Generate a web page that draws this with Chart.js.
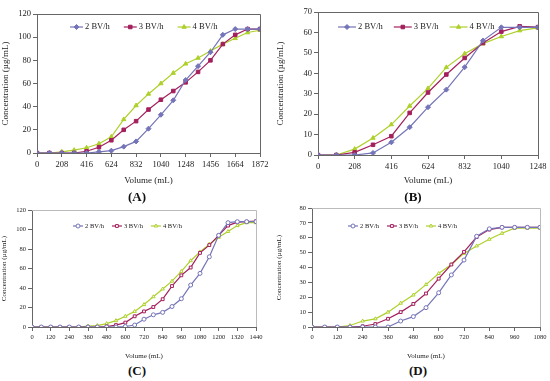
<!DOCTYPE html>
<html>
<head>
<meta charset="utf-8">
<script src="https://cdn.jsdelivr.net/npm/chart.js@4.4.1/dist/chart.umd.min.js"></script>
<style>
  body { margin: 0; background: #fff; }
  #wrap { position: relative; width: 550px; height: 381px; overflow: hidden; }
  .panel { position: absolute; }
  .lab { position: absolute; font: bold 13px "Liberation Serif", serif; color: #111; transform: translateX(-50%); }
</style>
</head>
<body>
<div id="wrap">
  <div class="panel" style="left:0;top:0;width:275px;height:186px"><canvas id="cA"></canvas></div>
  <div class="panel" style="left:275px;top:0;width:275px;height:186px"><canvas id="cB"></canvas></div>
  <div class="panel" style="left:0;top:190px;width:275px;height:170px"><canvas id="cC"></canvas></div>
  <div class="panel" style="left:275px;top:190px;width:275px;height:170px"><canvas id="cD"></canvas></div>
  <div class="lab" style="left:137px;top:189px">(A)</div>
  <div class="lab" style="left:413px;top:189px">(B)</div>
  <div class="lab" style="left:137px;top:363px">(C)</div>
  <div class="lab" style="left:418px;top:363px">(D)</div>
</div>
<script>
// ---- data ----
const seriesNames = ['2 BV/h', '3 BV/h', '4 BV/h'];

const volumeA = [0, 104, 208, 312, 416, 520, 624, 728, 832, 936, 1040, 1144, 1248, 1352, 1456, 1560, 1664, 1768, 1872];
const a2 = [0, 0, 0, 0, 0, 1, 2, 5.5, 10, 21, 33, 45.5, 63, 75, 87, 102, 107, 107, 107];
const a3 = [0, 0, 0, 0, 1.5, 5, 11, 20, 27.5, 37.5, 46, 53.5, 61, 70, 80, 94, 102, 107, 107];
const a4 = [0, 0, 1, 2.5, 4.5, 8, 14, 29, 41, 51, 60, 69, 77, 82, 88, 94, 99, 104, 106];
const xTicksA = [0, 208, 416, 624, 832, 1040, 1248, 1456, 1664, 1872];
const yTicksA = [0, 20, 40, 60, 80, 100, 120];

const volumeB = [0, 104, 208, 312, 416, 520, 624, 728, 832, 936, 1040, 1144, 1248];
const b2 = [0, 0, 0, 1, 6.2, 13.6, 23.4, 32, 43, 56, 62.5, 62.5, 62.5];
const b3 = [0, 0, 1.3, 5, 9.2, 20.6, 30.6, 39.4, 47.5, 54.8, 60.4, 63, 62.6];
const b4 = [0, 0, 2.9, 8.3, 14.9, 24, 32.6, 42.9, 49.6, 54.5, 58, 60.9, 62.2];
const xTicksB = [0, 208, 416, 624, 832, 1040, 1248];
const yTicksB = [0, 10, 20, 30, 40, 50, 60, 70];

const volumeC = [0, 60, 120, 180, 240, 300, 360, 420, 480, 540, 600, 660, 720, 780, 840, 900, 960, 1020, 1080, 1140, 1200, 1260, 1320, 1380, 1440];
const c2 = [0, 0, 0, 0, 0, 0, 0, 0, 0, 0, 0.5, 2, 8, 12.5, 15, 21, 29, 43, 55, 72, 94, 107, 108, 108, 108];
const c3 = [0, 0, 0, 0, 0, 0, 0, 0, 0.5, 2, 4.5, 11, 16, 20.5, 28.5, 42, 53, 61, 76, 84, 94, 104, 107.5, 108, 108.5];
const c4 = [0, 0, 0, 0, 0, 0, 1, 1.5, 3.5, 6.5, 11, 16, 23, 31, 39, 47, 57, 68, 77, 85, 92, 98, 104, 107, 107];
const xTicksC = [0, 120, 240, 360, 480, 600, 720, 840, 960, 1080, 1200, 1320, 1440];
const yTicksC = [0, 20, 40, 60, 80, 100, 120];

const volumeD = [0, 60, 120, 180, 240, 300, 360, 420, 480, 540, 600, 660, 720, 780, 840, 900, 960, 1020, 1080];
const d2 = [0, 0, 0, 0, 0, 0, 0, 4, 7, 13, 23, 35, 45, 61, 66, 67, 67, 67, 67];
const d3 = [0, 0, 0, 0, 0.5, 2, 5.5, 10, 15.5, 22.5, 32.5, 42, 50.5, 60.5, 65.5, 67, 67, 67, 67];
const d4 = [0, 0, 0, 1, 4, 5.5, 10, 16, 21.5, 28.5, 36, 42, 49.5, 54.5, 59, 63, 66.5, 66.5, 66.5];
const xTicksD = [0, 120, 240, 360, 480, 600, 720, 840, 960, 1080];
const yTicksD = [0, 10, 20, 30, 40, 50, 60, 70, 80];

// ---- styles ----
const colBlue = '#7474b8';
const colRed = '#a3205c';
const colGreen = '#aed02a';
const SERIF = '"Liberation Serif", "Times New Roman", serif';

function pts(xs, ys) {
  return xs.map((x, i) => ({ x: x, y: ys[i] }));
}

// frame round the plot area (top and right sides)
const framePlugin = {
  id: 'frame',
  afterDraw(chart, args, opts) {
    const a = chart.chartArea, ctx = chart.ctx;
    ctx.save();
    ctx.strokeStyle = opts.color;
    ctx.lineWidth = 1;
    ctx.beginPath();
    ctx.moveTo(a.left, a.top + 0.5);
    ctx.lineTo(a.right + 0.5, a.top + 0.5);
    ctx.lineTo(a.right + 0.5, a.bottom);
    ctx.stroke();
    ctx.restore();
  }
};

// legend drawn inside the plot: line + marker + text
const innerLegend = {
  id: 'innerLegend',
  afterDraw(chart, args, opts) {
    const ctx = chart.ctx;
    const a = chart.chartArea;
    let x = a.left + opts.dx;
    const y = a.top + opts.dy;
    ctx.save();
    ctx.font = opts.size + 'px ' + SERIF;
    ctx.textBaseline = 'middle';
    chart.data.datasets.forEach(ds => {
      ctx.strokeStyle = ds.borderColor;
      ctx.lineWidth = ds.borderWidth;
      ctx.beginPath();
      ctx.moveTo(x, y);
      ctx.lineTo(x + opts.len, y);
      ctx.stroke();
      ctx.fillStyle = ds.pointBackgroundColor;
      ctx.strokeStyle = ds.borderColor;
      ctx.lineWidth = 1;
      Chart.helpers.drawPoint(ctx, { pointStyle: ds.pointStyle, radius: ds.pointRadius, borderWidth: 1, rotation: 0 }, x + opts.len / 2, y);
      ctx.fillStyle = '#222';
      const tx = x + opts.len + 2;
      ctx.fillText(ds.label, tx, y);
      x = tx + ctx.measureText(ds.label).width + opts.gap;
    });
    ctx.restore();
  }
};

function makeChart(id, cfg) {
  const filled = cfg.filled;
  const mk = (label, color, style, data) => ({
    label: label,
    data: data,
    borderColor: color,
    backgroundColor: color,
    pointBackgroundColor: filled ? color : '#ffffff',
    pointBorderColor: color,
    pointBorderWidth: 1,
    pointStyle: style,
    pointRadius: cfg.r,
    borderWidth: 1.2,
    tension: 0
  });
  const datasets = [
    mk(seriesNames[0], colBlue, filled ? 'rectRot' : 'circle', pts(cfg.xs, cfg.s2)),
    mk(seriesNames[1], colRed, 'rect', pts(cfg.xs, cfg.s3)),
    mk(seriesNames[2], colGreen, 'triangle', pts(cfg.xs, cfg.s4))
  ];
  const el = document.getElementById(id);
  const W = el.parentNode.clientWidth, H = el.parentNode.clientHeight;
  el.width = W; el.height = H;
  const area = cfg.area; // left, top, right, bottom
  const axisCol = '#666';
  new Chart(el, {
    type: 'line',
    data: { datasets: datasets },
    plugins: [framePlugin, innerLegend],
    options: {
      responsive: false,
      animation: false,
      layout: { padding: { left: 0, top: area[1], right: W - area[2], bottom: 0 } },
      plugins: {
        legend: { display: false },
        tooltip: { enabled: false },
        frame: { color: cfg.frameColor },
        innerLegend: cfg.legend
      },
      scales: {
        x: {
          type: 'linear',
          min: 0, max: cfg.xt[cfg.xt.length - 1],
          afterBuildTicks: s => { s.ticks = cfg.xt.map(v => ({ value: v })); },
          afterFit: s => { s.height = H - area[3]; },
          ticks: { callback: v => String(v), color: '#222', font: { family: SERIF, size: cfg.tick }, padding: cfg.tickPad, maxRotation: 0, autoSkip: false },
          grid: { display: true, drawOnChartArea: false, drawTicks: true, tickLength: 4, color: axisCol },
          border: { display: true, color: axisCol, width: 1 },
          title: { display: true, text: 'Volume (mL)', color: '#222', font: { family: SERIF, size: cfg.title }, padding: { top: cfg.xtPad, bottom: 0 } }
        },
        y: {
          min: 0, max: cfg.yt[cfg.yt.length - 1],
          afterBuildTicks: s => { s.ticks = cfg.yt.map(v => ({ value: v })); },
          afterFit: s => { s.width = area[0]; },
          ticks: { callback: v => String(v), color: '#222', font: { family: SERIF, size: cfg.tick }, padding: 2 },
          grid: { display: true, drawOnChartArea: false, drawTicks: true, tickLength: 4, color: axisCol },
          border: { display: true, color: axisCol, width: 1 },
          title: { display: true, text: 'Concentration (µg/mL)', color: '#222', font: { family: SERIF, size: cfg.title }, padding: { top: 0, bottom: 1 } }
        }
      }
    }
  });
}

makeChart('cA', {
  xs: volumeA, s2: a2, s3: a3, s4: a4, filled: true, r: 2.5,
  xt: xTicksA, yt: yTicksA,
  area: [37, 14, 260, 153], tick: 8.5, title: 9, tickPad: 3, xtPad: 2,
  frameColor: '#666',
  legend: { dx: 33, dy: 13, len: 13, gap: 14, size: 8.5 }
});
makeChart('cB', {
  xs: volumeB, s2: b2, s3: b3, s4: b4, filled: true, r: 2.5,
  xt: xTicksB, yt: yTicksB,
  area: [43, 12, 263, 155], tick: 8.5, title: 9, tickPad: 3, xtPad: 2,
  frameColor: '#666',
  legend: { dx: 20, dy: 15, len: 18, gap: 11, size: 8.5 }
});
makeChart('cC', {
  xs: volumeC, s2: c2, s3: c3, s4: c4, filled: false, r: 2,
  xt: xTicksC, yt: yTicksC,
  area: [32, 20, 256, 137], tick: 6.5, title: 7, tickPad: 2, xtPad: 8,
  frameColor: '#bbb',
  legend: { dx: 41, dy: 16, len: 10, gap: 8, size: 6.5 }
});
makeChart('cD', {
  xs: volumeD, s2: d2, s3: d3, s4: d4, filled: false, r: 2,
  xt: xTicksD, yt: yTicksD,
  area: [37, 18, 265, 137], tick: 6.5, title: 7, tickPad: 2, xtPad: 8,
  frameColor: '#bbb',
  legend: { dx: 36, dy: 18, len: 10, gap: 8, size: 6.5 }
});
</script>
</body>
</html>
